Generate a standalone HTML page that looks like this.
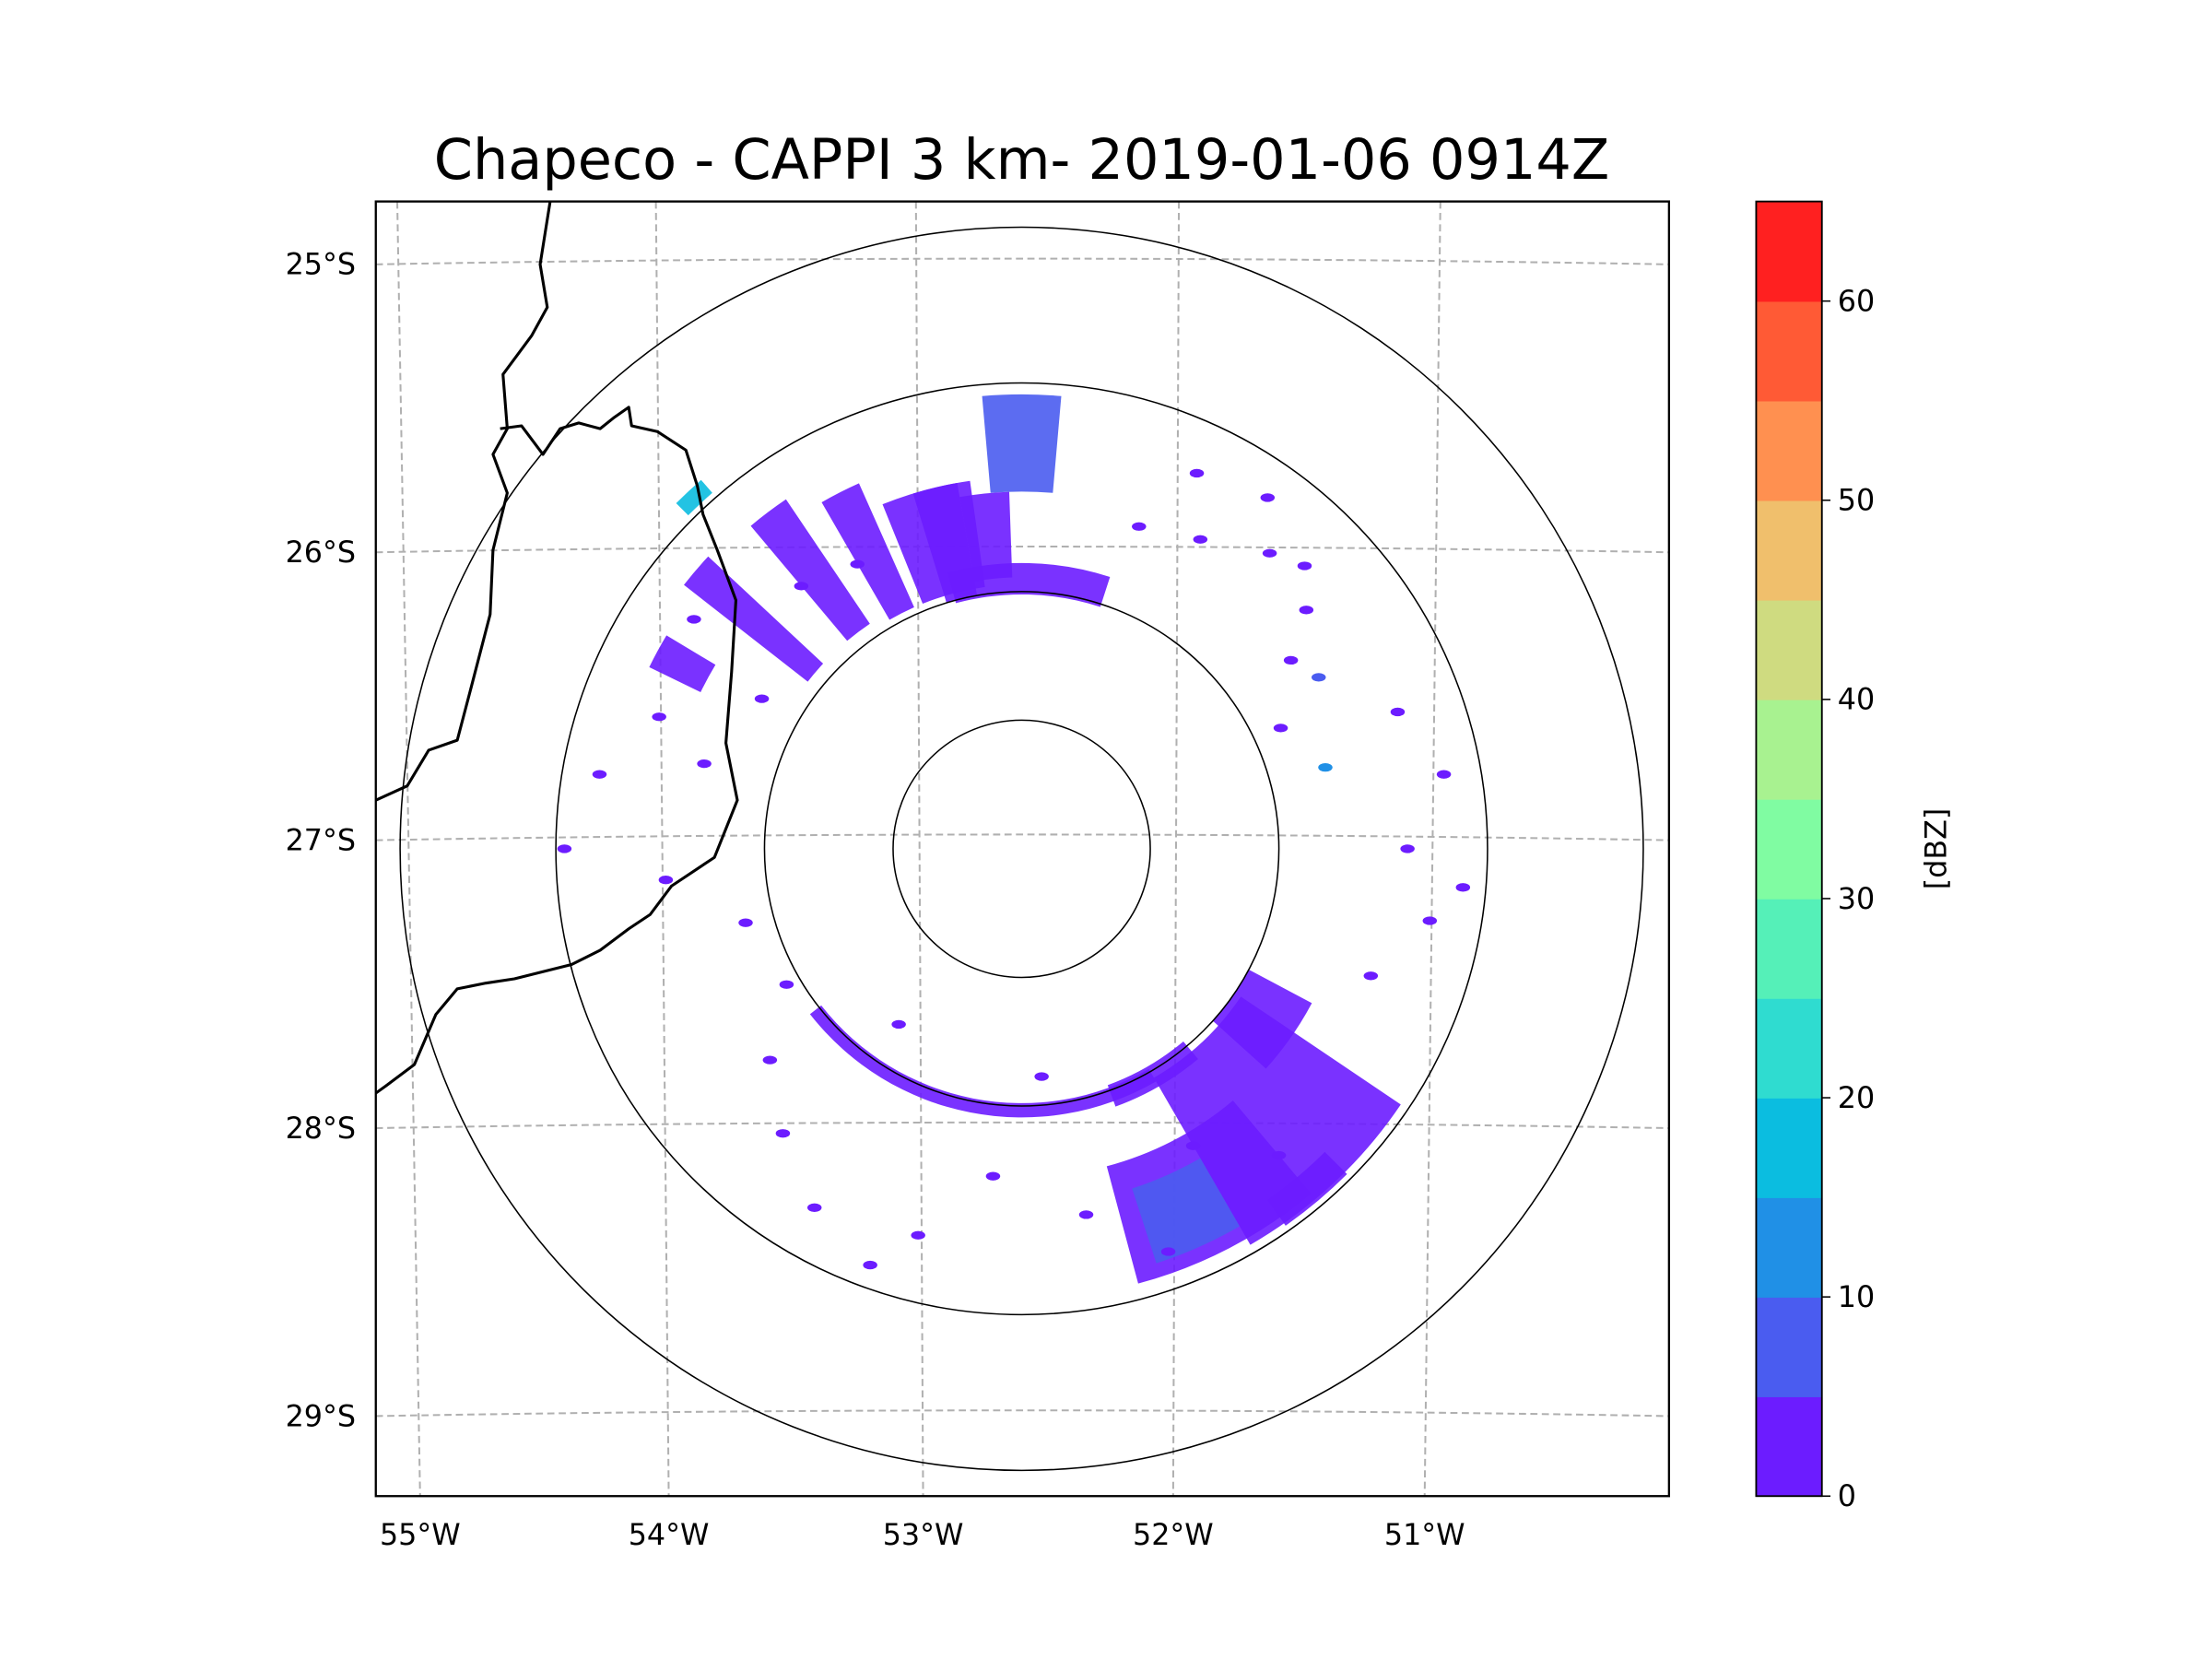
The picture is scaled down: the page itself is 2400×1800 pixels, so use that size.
<!DOCTYPE html>
<html><head><meta charset="utf-8"><style>
html,body{margin:0;padding:0;background:#fff;overflow:hidden;}
svg{display:block;}
text{font-family:"DejaVu Sans","Liberation Sans",sans-serif;fill:#000;}
</style></head><body>
<svg id="chart" width="2400" height="1800" viewBox="0 0 1548 1161" xmlns="http://www.w3.org/2000/svg">
<rect x="0" y="0" width="1548" height="1161" fill="#fff"/>
<text x="715" y="125" font-size="39" text-anchor="middle">Chapeco - CAPPI 3 km- 2019-01-06 0914Z</text>
<defs><clipPath id="plotclip"><rect x="263" y="141" width="905" height="906"/></clipPath></defs>
<g id="grid" clip-path="url(#plotclip)"></g>
<g id="echoes" clip-path="url(#plotclip)"></g>
<g id="rings" clip-path="url(#plotclip)"></g>
<g id="borders" clip-path="url(#plotclip)" fill="none" stroke="#000" stroke-width="2" stroke-linejoin="round">
<path d="M385,141 L378,185 L383,215 L372,235 L352,262 L355,300 L345,318 L355,345 L345,385 L343,430 L330,480 L320,518 L300,525 L285,550 L263,560"/>
<path d="M350,300 L365,298 L380,318 L392,300 L405,296 L420,300 L430,292 L440,285 L442,298 L460,302 L480,315 L488,340 L492,360 L502,385 L515,420 L512,470 L508,520 L516,560 L500,600 L470,620 L455,640 L440,650 L420,665 L400,675 L380,680 L360,685 L340,688 L320,692 L305,710 L290,745 L270,760 L263,765"/>
</g>
<rect x="263" y="141" width="905" height="906" fill="none" stroke="#000" stroke-width="1.5"/>
<g id="ticks"></g>
<g id="colorbar"></g>
</svg>
<script>
// ---- data ----
const latLabels = ["25°S","26°S","27°S","28°S","29°S"];
const lonLabels = ["55°W","54°W","53°W","52°W","51°W"];
const cbTicks = [0,10,20,30,40,50,60];
const cbLevels = [0,5,10,15,20,25,30,35,40,45,50,55,60,65];
const cbColors = ["#6c1cff","#4a5cf0","#2090e6","#0bbde0","#2fdcd0","#55f0b8","#80fca2","#a8f290","#cfdb80","#f0bf6c","#ff9050","#ff5a35","#ff2020"];
const ringRadii = [90,180,326,435];
// echoes: annular sectors (azimuth deg clockwise from north, range px) ; dbz = colour class index
const echoAz0 = [308,320,330,343,355,345,338,118,124,140,140,150,296,315,350,150,135];
const echoAz1 = [313,326,336,350,5,18,352,132,150,165,160,232,301,319,358,162,145];
const echoR0  = [190,190,185,180,250,178,185,180,185,230,176,178,250,330,190,250,300];
const echoR1  = [300,295,280,260,318,200,260,230,320,315,192,188,290,342,250,305,322];
const echoDbz = [0,0,0,0,1,0,0,0,0,0,0,0,0,3,0,1,0];
// scattered specks
const speckAz = [280,285,290,270,300,255,240,230,220,210,195,185,170,160,150,140,110,100,95,90,80,70,60,50,40,30,20,25,35,45,320,330,305,265,200,175,75,65,55,215];
const speckR  = [300,230,270,320,210,200,190,230,260,290,280,230,260,300,240,280,260,290,310,270,300,280,240,260,270,250,240,290,300,280,240,230,280,250,310,160,220,200,230,150];
const speckDbz= [0,0,0,0,0,0,0,0,0,0,0,0,0,0,0,0,0,0,0,0,0,0,1,0,0,0,0,0,0,0,0,0,0,0,0,0,2,0,0,0];
// ---- scales ----
const NS="http://www.w3.org/2000/svg";
const cx=715, cy=594;
const plotL=263, plotR=1168, plotT=141, plotB=1047;
function latY(i){return 185+i*201.5;}
function lonTopX(i){return [278,459,641,825,1008][i];}
function lonBotX(i){return [294,468,646,821,997][i];}
function px(az,r){const a=az*Math.PI/180;return [cx+r*Math.sin(a), cy-r*Math.cos(a)];}
function colorFor(d){let idx=Math.min(cbColors.length-1,Math.max(0,d));return cbColors[idx];}
function mk(tag,attrs,parent){const e=document.createElementNS(NS,tag);for(const k in attrs)e.setAttribute(k,attrs[k]);parent.appendChild(e);return e;}
// grid
const grid=document.getElementById('grid');
latLabels.forEach((l,i)=>{
  const y=latY(i);
  const p=mk('path',{d:`M${plotL},${y} Q${cx},${y-8} ${plotR},${y}`,fill:'none',stroke:'#b0b0b0','stroke-width':1.3,'stroke-dasharray':'5,3'},grid);
  
  
});
lonLabels.forEach((l,i)=>{
  const p=mk('line',{x1:lonTopX(i),y1:plotT,x2:lonBotX(i),y2:plotB,stroke:'#b0b0b0','stroke-width':1.3,'stroke-dasharray':'5,3'},grid);
  
  
});
// echoes
const eg=document.getElementById('echoes');
for(let i=0;i<echoAz0.length;i++){
  let a0=echoAz0[i],a1=echoAz1[i];if(a1<a0)a1+=360;
  const [x1,y1]=px(a0,echoR1[i]),[x2,y2]=px(a1,echoR1[i]),[x3,y3]=px(a1,echoR0[i]),[x4,y4]=px(a0,echoR0[i]);
  const lg=(a1-a0)>180?1:0;
  const p=mk('path',{d:`M${x1},${y1} A${echoR1[i]},${echoR1[i]} 0 ${lg} 1 ${x2},${y2} L${x3},${y3} A${echoR0[i]},${echoR0[i]} 0 ${lg} 0 ${x4},${y4} Z`,fill:colorFor(echoDbz[i]),'fill-opacity':0.9},eg);
  
  
}
for(let i=0;i<speckAz.length;i++){
  const [x,y]=px(speckAz[i],speckR[i]);
  const e=mk('ellipse',{cx:x,cy:y,rx:5,ry:3,fill:colorFor(speckDbz[i])},eg);
  
  
}
// rings
const rg=document.getElementById('rings');
ringRadii.forEach(r=>{
  const c=mk('circle',{cx:cx,cy:cy,r:r,fill:'none',stroke:'#000','stroke-width':1},rg);
  
  
});
// tick labels
const tg=document.getElementById('ticks');
latLabels.forEach((l,i)=>{
  const t=mk('text',{x:249,y:latY(i)+7,'font-size':20.5,'text-anchor':'end'},tg);t.textContent=l;
  
  
});
lonLabels.forEach((l,i)=>{
  const t=mk('text',{x:lonBotX(i),y:1081,'font-size':20.5,'text-anchor':'middle'},tg);t.textContent=l;
  
  
});
// colorbar
const cb=document.getElementById('colorbar');
const cbX=1229,cbW=46,cbT=141,cbB=1047;
function cbY(v){return cbB-(v-cbLevels[0])/(cbLevels[cbLevels.length-1]-cbLevels[0])*(cbB-cbT);}
for(let i=0;i<cbColors.length;i++){
  const y0=cbY(cbLevels[i+1]),y1=cbY(cbLevels[i]);
  const r=mk('rect',{x:cbX,y:y0,width:cbW,height:y1-y0+0.5,fill:cbColors[i]},cb);
  
  
}
const fr=mk('rect',{x:cbX,y:cbT,width:cbW,height:cbB-cbT,fill:'none',stroke:'#000','stroke-width':1.2},cb);


cbTicks.forEach(v=>{
  const y=cbY(v);
  const tk=mk('line',{x1:cbX+cbW,y1:y,x2:cbX+cbW+6,y2:y,stroke:'#000','stroke-width':1},cb);
  
  
  const t=mk('text',{x:cbX+cbW+11,y:y+7,'font-size':20.5},cb);t.textContent=v;
  
  
});
const lab=mk('text',{x:1362,y:594,'font-size':20.5,'text-anchor':'middle',transform:'rotate(-90 1362 594)'},cb);lab.textContent='[dBZ]';


</script>
</body></html>
